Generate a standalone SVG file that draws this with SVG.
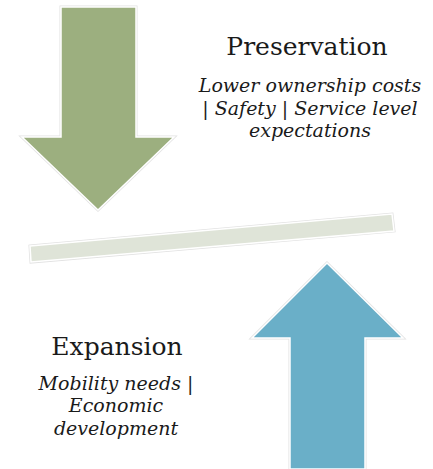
<svg xmlns="http://www.w3.org/2000/svg" width="433" height="469" viewBox="0 0 433 469">
  <style>
    .edge { fill: none; stroke: #e2e2e2; stroke-width: 3; stroke-linejoin: miter; }
    .rim { stroke: #ffffff; stroke-width: 1.5; stroke-linejoin: miter; }
    .title { font-family: "DejaVu Serif", "Liberation Serif", serif; font-size: 25px; fill: #1a1a1a; text-anchor: middle; }
    .sub { font-family: "DejaVu Serif", "Liberation Serif", serif; font-size: 19px; font-style: italic; fill: #1a1a1a; text-anchor: middle; }
  </style>
  <defs>
    <polygon id="down-arrow-shape" points="61,7 136,7 136,137 174,137 98,210 22,137 61,137"/>
    <polygon id="up-arrow-shape" points="290,469 290,338 252,338 327,263 403,338 365,338 365,469"/>
    <polygon id="balance-shape" points="30,246 392,214 394,231 31,262"/>
  </defs>
  <rect width="433" height="469" fill="#ffffff"/>

  <g id="preservation-arrow">
    <use href="#down-arrow-shape" class="edge"/>
    <use href="#down-arrow-shape" class="rim" fill="#9caf7f"/>
  </g>

  <g id="balance-bar">
    <use href="#balance-shape" class="edge"/>
    <use href="#balance-shape" class="rim" fill="#dfe4d8"/>
  </g>

  <g id="expansion-arrow">
    <use href="#up-arrow-shape" class="edge"/>
    <use href="#up-arrow-shape" class="rim" fill="#6aafc8"/>
  </g>

  <g id="preservation-label">
    <text class="title" x="307" y="55">Preservation</text>
    <text class="sub" x="310" y="92">Lower ownership costs</text>
    <text class="sub" x="310" y="115">| Safety | Service level</text>
    <text class="sub" x="310" y="137">expectations</text>
  </g>

  <g id="expansion-label">
    <text class="title" x="117" y="355">Expansion</text>
    <text class="sub" x="116" y="390">Mobility needs |</text>
    <text class="sub" x="116" y="412">Economic</text>
    <text class="sub" x="116" y="435">development</text>
  </g>
</svg>
